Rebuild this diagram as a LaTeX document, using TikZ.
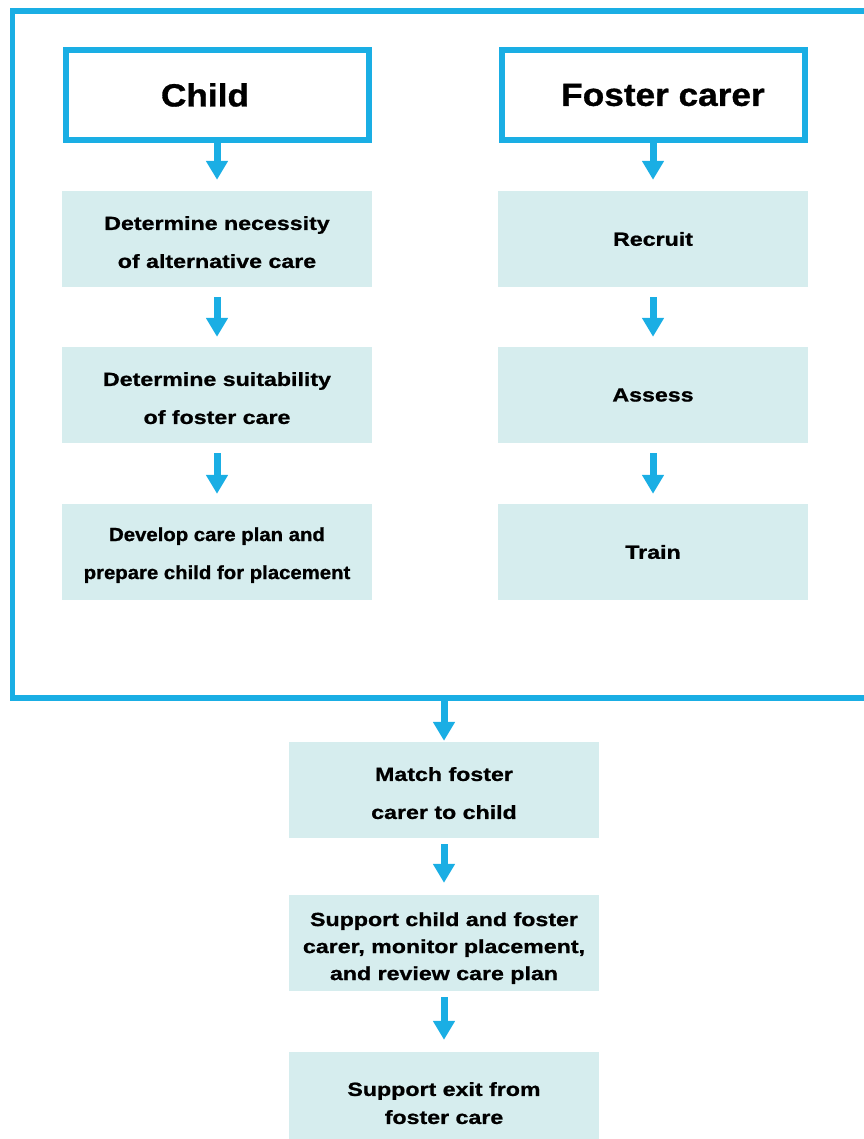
\documentclass[tikz,border=0pt]{standalone}
\usepackage{fontspec}
\usetikzlibrary{arrows.meta}
\newfontfamily\hdfont[FakeStretch=1.1,FakeBold=1]{Liberation Sans}
\newfontfamily\bdfont[FakeStretch=1.22,FakeBold=1]{Liberation Sans}
\newfontfamily\bdfontn[FakeStretch=1.07,FakeBold=1]{Liberation Sans}
\definecolor{fcblue}{RGB}{26,174,228}
\definecolor{fcfill}{RGB}{214,237,238}
\newcommand{\upstrut}{\rule{0pt}{20pt}}
\tikzset{
  header/.style={draw=fcblue, line width=6pt, fill=white, minimum width=303pt, minimum height=90pt, inner sep=0pt,
    font=\hdfont\bfseries\fontsize{32pt}{38pt}\selectfont},
  stepbox/.style={fill=fcfill, minimum width=310pt, minimum height=96pt, inner sep=0pt, align=center,
    font=\bdfont\bfseries\fontsize{19pt}{38pt}\selectfont},
  flow/.style={draw=fcblue, line width=7pt, -{Triangle[width=21pt,length=19pt]}},
  frame/.style={draw=fcblue, line width=5.5pt}
}
\begin{document}
\begin{tikzpicture}[x=1pt,y=-1pt]
\useasboundingbox (0,0) rectangle (863,1139);
\draw[frame] (870,11) -- (12.5,11) -- (12.5,698) -- (870,698);
\coordinate (fb) at (444,698);

\node[header] (child) at (217,95) {Child\kern24pt\relax};
\node[header] (carer) at (653,95) {\kern20pt Foster carer};

\node[stepbox] (c1) at (217,239) {\upstrut Determine necessity\\ of alternative care};
\node[stepbox] (c2) at (217,395) {\upstrut Determine suitability\\ of foster care};
\node[stepbox, font=\bdfontn\bfseries\fontsize{19pt}{38pt}\selectfont] (c3) at (217,552) {\upstrut Develop care plan and\\prepare child for placement};

\node[stepbox] (f1) at (653,239) {Recruit};
\node[stepbox] (f2) at (653,395) {Assess};
\node[stepbox] (f3) at (653,552) {Train};

\node[stepbox] (m1) at (444,790) {\upstrut Match foster\\ carer to child};
\node[stepbox, font=\bdfont\bfseries\fontsize{19pt}{27pt}\selectfont] (m2) at (444,943) {\rule{0pt}{24pt}Support child and foster\\carer, monitor placement,\\and review care plan};
\node[stepbox, font=\bdfont\bfseries\fontsize{19pt}{28pt}\selectfont] (m3) at (444,1100) {\upstrut Support exit from\\foster care};

\draw[flow, shorten >=11pt] (child) -- (c1);
\draw[flow, shorten <=10pt, shorten >=10pt] (c1) -- (c2);
\draw[flow, shorten <=10pt, shorten >=10pt] (c2) -- (c3);
\draw[flow, shorten >=11pt] (carer) -- (f1);
\draw[flow, shorten <=10pt, shorten >=10pt] (f1) -- (f2);
\draw[flow, shorten <=10pt, shorten >=10pt] (f2) -- (f3);
\draw[flow, shorten >=1pt] (fb) -- (m1);
\draw[flow, shorten <=6pt, shorten >=12pt] (m1) -- (m2);
\draw[flow, shorten <=6pt, shorten >=12pt] (m2) -- (m3);
\end{tikzpicture}
\end{document}
